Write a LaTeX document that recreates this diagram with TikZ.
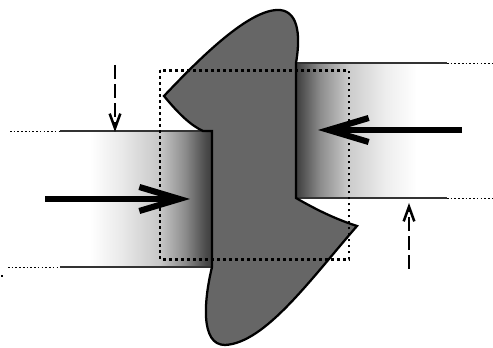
\documentclass[tikz,border=0pt]{standalone}
\usetikzlibrary{arrows.meta}
\definecolor{bodygray}{HTML}{666666}
\pgfdeclarehorizontalshading{fadeleft}{100bp}{
  color(0bp)=(white); color(25bp)=(white); color(34.9bp)=(white);
  color(44.7bp)=(black!8); color(57.9bp)=(black!22); color(66.1bp)=(black!45);
  color(72.7bp)=(black!70); color(75bp)=(black!76); color(100bp)=(black!76)}
\pgfdeclarehorizontalshading{faderight}{100bp}{
  color(0bp)=(black!76); color(25bp)=(black!76); color(33bp)=(black!45);
  color(42.6bp)=(black!20); color(54.5bp)=(black!7); color(65bp)=(white);
  color(75bp)=(white); color(100bp)=(white)}
\tikzset{
  x=0.75pt,y=-0.75pt,
  band/.style={draw=none},
  edgeline/.style={line width=0.8pt,black!80},
  farline/.style={line width=0.6pt,black,dash pattern=on 1.2pt off 1.6pt},
  bodyshape/.style={fill=bodygray,draw=black,line width=1.7pt,line join=miter},
  frame/.style={draw=black,line width=2pt,dash pattern=on 2pt off 2.5pt},
  force/.style={line width=5pt,-{Straight Barb[length=30pt,width=18pt,line width=4.6pt]}},
  hint/.style={line width=2.1pt,dash pattern=on 10.5pt off 3.8pt,-{Straight Barb[length=11pt,width=8pt,line width=1.9pt]}}
}
\begin{document}
\begin{tikzpicture}
\useasboundingbox (0,0) rectangle (493,348);
% bands
\shade[shading=fadeleft,band] (60,131) rectangle (212,267);
\shade[shading=faderight,band] (296,63) rectangle (447,198);
% band edges
\draw[edgeline] (60,131) -- (212,131);
\draw[edgeline] (60,267) -- (212,267);
\draw[edgeline] (296,63) -- (447,63);
\draw[edgeline] (296,198) -- (447,198);
\draw[farline] (10,131) -- (60,131);
\draw[farline] (8,267) -- (60,267);
\draw[farline] (447,63) -- (493,63);
\draw[farline] (447,198) -- (493,198);
\fill (1,275) rectangle (3,277);
% body
\draw[bodyshape] (164,96)
  .. controls (200,58) and (250,8) .. (280,10)
  .. controls (300,12) and (300,40) .. (296,63)
  -- (296,198)
  .. controls (315,209) and (335,219) .. (357,226)
  .. controls (310,280) and (265,343) .. (225,345)
  .. controls (200,345) and (204,300) .. (212,267)
  -- (212,131) -- (203,131)
  .. controls (190,125) and (178,113) .. (164,96) -- cycle;
% frame
\draw[frame] (160,70.5) rectangle (349,259.5);
% arrows
\coordinate (fa) at (45,199); \coordinate (fb) at (190,199);
\coordinate (ga) at (462,130); \coordinate (gb) at (318,130);
\coordinate (ha) at (115,65); \coordinate (hb) at (115,132);
\coordinate (ia) at (409,269); \coordinate (ib) at (409,203);
\draw[force] (fa) -- (fb);
\draw[force] (ga) -- (gb);
\draw[hint] (ha) -- (hb);
\draw[hint] (ia) -- (ib);
\end{tikzpicture}
\end{document}
